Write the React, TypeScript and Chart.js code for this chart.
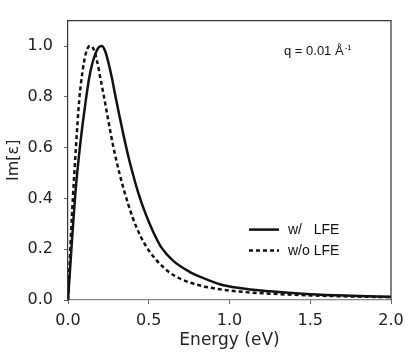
import React, { useEffect, useRef } from "react";
import { Chart, registerables } from "chart.js";

Chart.register(...registerables);

// w/ LFE (solid)
const withLfeEnergy = [0, 0.01, 0.02, 0.03, 0.045, 0.06, 0.075, 0.09, 0.11, 0.13, 0.15, 0.17, 0.19, 0.21, 0.23, 0.25, 0.27, 0.29, 0.315, 0.34, 0.37, 0.4, 0.44, 0.48, 0.53, 0.58, 0.65, 0.75, 0.85, 0.94, 1.05, 1.25, 1.5, 1.75, 2.0];
const withLfeIm = [0, 0.095, 0.19, 0.285, 0.415, 0.52, 0.61, 0.69, 0.785, 0.87, 0.93, 0.97, 0.995, 1.0, 0.98, 0.935, 0.88, 0.815, 0.735, 0.66, 0.575, 0.5, 0.412, 0.34, 0.265, 0.205, 0.155, 0.112, 0.083, 0.062, 0.048, 0.034, 0.023, 0.017, 0.013];

// w/o LFE (dashed)
const withoutLfeEnergy = [0, 0.01, 0.02, 0.03, 0.05, 0.07, 0.09, 0.11, 0.125, 0.14, 0.16, 0.18, 0.2, 0.22, 0.25, 0.28, 0.32, 0.35, 0.4, 0.45, 0.49, 0.55, 0.63, 0.7, 0.8, 0.94, 1.1, 1.25, 1.5, 1.75, 2.0];
const withoutLfeIm = [0, 0.14, 0.28, 0.4, 0.61, 0.79, 0.9, 0.97, 0.995, 1.0, 0.985, 0.94, 0.875, 0.81, 0.705, 0.605, 0.495, 0.425, 0.325, 0.25, 0.205, 0.155, 0.108, 0.082, 0.06, 0.042, 0.031, 0.025, 0.018, 0.014, 0.011];

const xTicks = [0, 0.5, 1.0, 1.5, 2.0];
const yTicks = [0, 0.2, 0.4, 0.6, 0.8, 1.0];

const seriesLabels = ["w/   LFE", "w/o LFE"];
const annotationMain = "q = 0.01 Å";
const annotationSup = "-1";

const LINE_COLOR = "#111";
const DASH = [4, 3];

const overlayPlugin = {
  id: "overlay",
  afterDraw(chart: any) {
    const { ctx, chartArea } = chart;
    const { left, right, top, bottom } = chartArea;
    ctx.save();
    ctx.strokeStyle = "#333";
    ctx.lineWidth = 1.2;
    ctx.beginPath();
    ctx.moveTo(left, top);
    ctx.lineTo(right, top);
    ctx.lineTo(right, bottom);
    ctx.stroke();

    const lx0 = left + 181;
    const lx1 = left + 211;
    const ty = [top + 209, top + 230];
    ctx.lineWidth = 2.5;
    ctx.strokeStyle = LINE_COLOR;
    ctx.font = "14px 'Liberation Sans', Arial, sans-serif";
    ctx.fillStyle = "#111";
    ctx.textBaseline = "middle";
    ctx.textAlign = "left";
    seriesLabels.forEach((lab, i) => {
      ctx.setLineDash(i === 0 ? [] : DASH);
      ctx.beginPath();
      ctx.moveTo(lx0, ty[i]);
      ctx.lineTo(lx1, ty[i]);
      ctx.stroke();
      ctx.fillText(lab, lx1 + 9, ty[i] + 1);
    });
    ctx.setLineDash([]);

    ctx.textBaseline = "alphabetic";
    ctx.font = "13px 'Liberation Sans', Arial, sans-serif";
    const ax = left + 216;
    const ay = top + 34;
    ctx.fillText(annotationMain, ax, ay);
    const w = ctx.measureText(annotationMain).width;
    ctx.font = "8px 'Liberation Sans', Arial, sans-serif";
    ctx.fillText(annotationSup, ax + w + 1, ay - 5);
    ctx.restore();
  },
};

export default function App() {
  const ref = useRef<HTMLCanvasElement | null>(null);
  useEffect(() => {
    if (!ref.current) return;
    const tickFont = { family: "'DejaVu Sans', sans-serif", size: 16 };
    const chart = new Chart(ref.current, {
      type: "line",
      data: {
        datasets: [
          {
            label: seriesLabels[0],
            data: withLfeEnergy.map((x, i) => ({ x, y: withLfeIm[i] })),
            borderColor: LINE_COLOR,
            borderWidth: 2.5,
            pointRadius: 0,
            cubicInterpolationMode: "monotone",
            fill: false,
          },
          {
            label: seriesLabels[1],
            data: withoutLfeEnergy.map((x, i) => ({ x, y: withoutLfeIm[i] })),
            borderColor: LINE_COLOR,
            borderWidth: 2.5,
            borderDash: DASH,
            pointRadius: 0,
            cubicInterpolationMode: "monotone",
            fill: false,
          },
        ],
      },
      options: {
        animation: false,
        responsive: false,
        devicePixelRatio: 1,
        layout: { padding: { top: 17, right: 24, left: 0, bottom: 0 } },
        plugins: { legend: { display: false }, tooltip: { enabled: false } },
        scales: {
          x: {
            type: "linear",
            min: 0,
            max: 2,
            afterBuildTicks: (s: any) => {
              s.ticks = xTicks.map((v) => ({ value: v }));
            },
            afterFit: (s: any) => {
              s.height = 56;
            },
            ticks: {
              autoSkip: false,
              maxRotation: 0,
              padding: 7,
              color: "#222",
              font: tickFont,
              callback: (v: any) => Number(v).toFixed(1),
            },
            grid: { display: true, drawOnChartArea: false, tickLength: 4, color: "#666" },
            border: { display: true, color: "#888", width: 1.2 },
            title: {
              display: true,
              text: "Energy (eV)",
              color: "#222",
              font: { family: "'DejaVu Sans', sans-serif", size: 17 },
              padding: { top: 0, bottom: 5 },
            },
          },
          y: {
            type: "linear",
            min: 0,
            max: 1.1,
            afterBuildTicks: (s: any) => {
              s.ticks = yTicks.map((v) => ({ value: v }));
            },
            afterFit: (s: any) => {
              s.width = 68;
            },
            ticks: {
              padding: 11,
              color: "#222",
              font: tickFont,
              callback: (v: any) => Number(v).toFixed(1),
            },
            grid: { display: true, drawOnChartArea: false, tickLength: 4, color: "#666" },
            border: { display: true, color: "#333", width: 1.2 },
            title: {
              display: true,
              text: "Im[ε]",
              color: "#222",
              font: tickFont,
              padding: { top: 4, bottom: 0 },
            },
          },
        },
      },
      plugins: [overlayPlugin],
    } as any);
    return () => chart.destroy();
  }, []);
  return (
    <div style={{ position: "fixed", left: 0, top: 0, width: 415, height: 356, background: "#fff" }}>
      <canvas ref={ref} width={415} height={356} style={{ width: 415, height: 356, display: "block" }} />
    </div>
  );
}
